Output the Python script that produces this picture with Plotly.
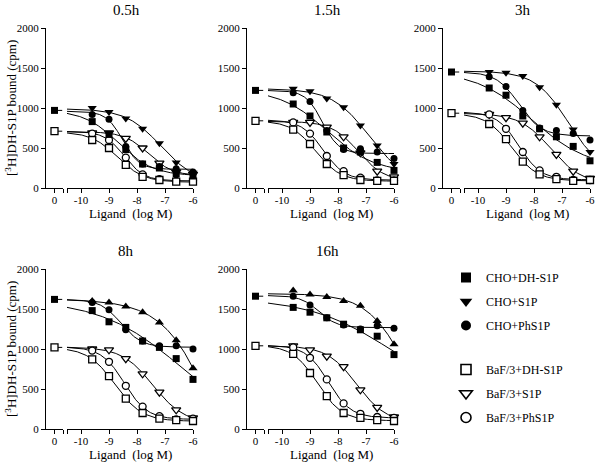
import numpy as np
import plotly.graph_objects as go

# ---------------- data ----------------
TIMES = ["0.5h", "1.5h", "3h", "8h", "16h"]
LOG_CONC = [-9.6, -9.0, -8.4, -7.8, -7.2, -6.6, -6.0]
X_TICKS = [-10, -9, -8, -7, -6]
X_TICK_TEXT = ["-10", "-9", "-8", "-7", "-6"]
Y_TICKS = [0, 500, 1000, 1500, 2000]
SERIES_NAMES = ["CHO+DH-S1P", "CHO+S1P", "CHO+PhS1P",
                "BaF/3+DH-S1P", "BaF/3+S1P", "BaF/3+PhS1P"]

# control (no ligand) binding, one value per time point
CHO_CTRL = [970, 1220, 1450, 1620, 1660]
BAF_CTRL = [710, 840, 935, 1020, 1040]

# binding (cpm) at each LOG_CONC, one list per time point
CHO_DH_S1P = [
    [830, 670, 480, 300, 250, 180, 150],
    [1050, 900, 700, 500, 450, 320, 220],
    [1250, 1160, 900, 740, 640, 520, 340],
    [1480, 1340, 1270, 1100, 1020, 880, 620],
    [1520, 1460, 1390, 1310, 1240, 1160, 930],
]
CHO_S1P = [
    [1000, 950, 870, 740, 560, 320, 190],
    [1240, 1210, 1120, 1010, 780, 530, 300],
    [1450, 1440, 1400, 1260, 1040, 730, 450],
    [1600, 1580, 1530, 1460, 1330, 1110, 760],
    [1730, 1680, 1650, 1600, 1540, 1350, 1060],
]
CHO_PHS1P = [
    [920, 860, 520, 300, 270, 240, 200],
    [1190, 1080, 720, 480, 490, 450, 370],
    [1390, 1270, 970, 750, 720, 680, 600],
    [1580, 1490, 1240, 1100, 1040, 1040, 1000],
    [1660, 1550, 1390, 1300, 1250, 1290, 1260],
]
BAF_DH_S1P = [
    [600, 500, 290, 140, 100, 80, 80],
    [730, 550, 300, 160, 100, 90, 90],
    [800, 610, 330, 170, 110, 90, 100],
    [870, 660, 380, 200, 130, 110, 100],
    [940, 700, 410, 200, 140, 110, 100],
]
BAF_S1P = [
    [690, 690, 620, 500, 310, 200, 170],
    [820, 820, 760, 640, 440, 210, 140],
    [920, 880, 810, 640, 420, 210, 120],
    [1000, 990, 880, 690, 460, 240, 140],
    [1040, 990, 910, 780, 490, 270, 150],
]
BAF_PHS1P = [
    [680, 600, 380, 170, 110, 90, 90],
    [820, 680, 400, 210, 130, 95, 95],
    [920, 740, 450, 220, 140, 100, 100],
    [980, 840, 540, 280, 160, 120, 130],
    [1020, 890, 620, 320, 190, 150, 140],
]

# ---------------- helpers ----------------
FONT = "Liberation Serif"
W, H = 605, 462


def fit4pl(x, y, top_ctrl):
    """Least-squares 4-parameter logistic fit (grid over logIC50/Hill)."""
    X = np.append(np.asarray(x, float), -np.inf)
    Y = np.append(np.asarray(y, float), float(top_ctrl))
    cs = np.arange(-11.5, -4.0, 0.01)
    best = (np.inf, None)
    for h in np.arange(0.3, 3.01, 0.02):
        with np.errstate(over="ignore", invalid="ignore"):
            f = 1.0 / (1.0 + 10.0 ** ((X[None, :] - cs[:, None]) * h))
        g = 1.0 - f
        a11 = (g * g).sum(1); a12 = (g * f).sum(1); a22 = (f * f).sum(1)
        r1 = (g * Y).sum(1); r2 = (f * Y).sum(1)
        det = a11 * a22 - a12 ** 2
        det = np.where(np.abs(det) < 1e-9, np.nan, det)
        b = (a22 * r1 - a12 * r2) / det
        t = (a11 * r2 - a12 * r1) / det
        sse = ((b[:, None] * g + t[:, None] * f - Y[None, :]) ** 2).sum(1)
        sse = np.where(np.isnan(sse), np.inf, sse)
        i = int(np.argmin(sse))
        if sse[i] < best[0]:
            best = (sse[i], (b[i], t[i], cs[i], h))
    return best[1]


def curve(params, xx):
    b, t, c, h = params
    return b + (t - b) / (1.0 + 10.0 ** ((xx - c) * h))


COLS = [46, 247, 443]
ROWS = [(28, 188), (269, 429)]
PANELS = [(0, 0), (0, 1), (0, 2), (1, 0), (1, 1)]
SHORT_W = 17
MAIN_START = 21
MAIN_END = 147
X_MIN, X_MAX = -10.5, -6.0

fig = go.Figure()
layout = dict(
    width=W, height=H, margin=dict(l=0, r=0, t=0, b=0, autoexpand=False),
    plot_bgcolor="white", paper_bgcolor="white",
    font=dict(family=FONT, size=11, color="black"),
    annotations=[],
)

axis_common = dict(showline=True, linecolor="black", linewidth=1, ticks="outside",
                   ticklen=4, tickwidth=1, tickcolor="black", showgrid=False,
                   zeroline=False, tickfont=dict(family=FONT, size=11, color="black"),
                   fixedrange=True, automargin=False)

xx = np.linspace(X_MIN, X_MAX, 200)

series_data = [CHO_DH_S1P, CHO_S1P, CHO_PHS1P, BAF_DH_S1P, BAF_S1P, BAF_PHS1P]

for p, (row, col) in enumerate(PANELS):
    c = COLS[col]
    ytop, ybot = ROWS[row]
    xs_id, xm_id, y_id = 2 * p + 1, 2 * p + 2, p + 1
    xs = "x" if xs_id == 1 else f"x{xs_id}"
    xm = f"x{xm_id}"
    ya = "y" if y_id == 1 else f"y{y_id}"

    layout["xaxis" if xs_id == 1 else f"xaxis{xs_id}"] = dict(
        axis_common, domain=[c / W, (c + SHORT_W) / W], range=[-0.55, 0.55],
        anchor=ya, tickvals=[0], ticktext=["0"], ticklabelstandoff=-2,
        minor=dict(tickvals=[0.55], ticks="outside", ticklen=4, tickcolor="black",
                   showgrid=False))
    layout[f"xaxis{xm_id}"] = dict(
        axis_common, domain=[(c + MAIN_START) / W, (c + MAIN_END) / W],
        range=[X_MIN, X_MAX], anchor=ya, ticklabelstandoff=-2,
        tickvals=X_TICKS, ticktext=X_TICK_TEXT,
        minor=dict(tickvals=[X_MIN], ticks="outside", ticklen=4, tickcolor="black",
                   showgrid=False))
    layout["yaxis" if y_id == 1 else f"yaxis{y_id}"] = dict(
        axis_common, domain=[1 - ybot / H, 1 - ytop / H], range=[0, 2000],
        anchor=xs, tickvals=Y_TICKS)

    ctrls = [CHO_CTRL[p]] * 3 + [BAF_CTRL[p]] * 3
    # fitted curves
    for s in range(6):
        y = series_data[s][p]
        prm = fit4pl(LOG_CONC, y, ctrls[s])
        fig.add_trace(go.Scatter(x=xx, y=curve(prm, xx), mode="lines",
                                 line=dict(color="black", width=1),
                                 xaxis=xm, yaxis=ya, showlegend=False,
                                 hoverinfo="skip"))
    # control dashes
    for v in (CHO_CTRL[p], BAF_CTRL[p]):
        fig.add_trace(go.Scatter(x=[0, 0.5], y=[v, v], mode="lines",
                                 line=dict(color="black", width=1),
                                 xaxis=xs, yaxis=ya, showlegend=False,
                                 cliponaxis=False, hoverinfo="skip"))
    # markers
    tri = "triangle-down" if p < 3 else "triangle-up"
    styles = [
        dict(symbol="square", size=7, color="black"),
        dict(symbol=tri, size=8, color="black"),
        dict(symbol="circle", size=7, color="black"),
        dict(symbol="square", size=7, color="white", line=dict(color="black", width=1.3)),
        dict(symbol="triangle-down", size=8, color="white", line=dict(color="black", width=1.3)),
        dict(symbol="circle", size=7, color="white", line=dict(color="black", width=1.3)),
    ]
    for s in [4, 5, 3, 1, 2, 0]:
        fig.add_trace(go.Scatter(x=LOG_CONC, y=series_data[s][p], mode="markers",
                                 marker=styles[s], xaxis=xm, yaxis=ya,
                                 showlegend=False, cliponaxis=False,
                                 name=SERIES_NAMES[s]))
    # control markers
    fig.add_trace(go.Scatter(x=[0], y=[BAF_CTRL[p]], mode="markers", marker=styles[3],
                             xaxis=xs, yaxis=ya, showlegend=False, cliponaxis=False))
    fig.add_trace(go.Scatter(x=[0], y=[CHO_CTRL[p]], mode="markers", marker=styles[0],
                             xaxis=xs, yaxis=ya, showlegend=False, cliponaxis=False))

    # titles
    layout["annotations"].append(dict(
        text=TIMES[p], x=(c + 80) / W, y=1 - (ytop - 18) / H, xref="paper", yref="paper",
        showarrow=False, font=dict(family=FONT, size=15), xanchor="center", yanchor="middle"))
    layout["annotations"].append(dict(
        text="Ligand  (log M)", x=(c + 84) / W, y=1 - (ybot + 25) / H, xref="paper",
        yref="paper", showarrow=False, font=dict(family=FONT, size=13),
        xanchor="center", yanchor="middle"))
    if col == 0:
        layout["annotations"].append(dict(
            text="[<sup>3</sup>H]DH-S1P bound (cpm)", x=11 / W, y=1 - ((ytop + ybot) / 2) / H,
            xref="paper", yref="paper", showarrow=False, textangle=-90,
            font=dict(family=FONT, size=13), xanchor="center", yanchor="middle"))

# legend entries (marker key only)
leg_styles = [
    dict(symbol="square", size=10, color="black"),
    dict(symbol="triangle-down", size=11, color="black"),
    dict(symbol="circle", size=10, color="black"),
    dict(symbol="square", size=10, color="white", line=dict(color="black", width=1.6)),
    dict(symbol="triangle-down", size=11, color="white", line=dict(color="black", width=1.6)),
    dict(symbol="circle", size=10, color="white", line=dict(color="black", width=1.6)),
]
for s in range(6):
    fig.add_trace(go.Scatter(x=[None], y=[None], mode="markers", marker=leg_styles[s],
                             name=SERIES_NAMES[s], legend="legend" if s < 3 else "legend2",
                             legendgroup=SERIES_NAMES[s], showlegend=True,
                             xaxis="x", yaxis="y"))

leg_common = dict(xanchor="left", yanchor="top", bgcolor="rgba(0,0,0,0)",
                  font=dict(family=FONT, size=12), tracegroupgap=5, itemwidth=30)
layout["legend"] = dict(leg_common, x=446 / W, y=1 - 263 / H)
layout["legend2"] = dict(leg_common, x=446 / W, y=1 - 355 / H)
layout["showlegend"] = True

fig.update_layout(**layout)
fig.write_html("out.html", config={"displayModeBar": False},
               post_script="document.body.style.margin='0px';")
